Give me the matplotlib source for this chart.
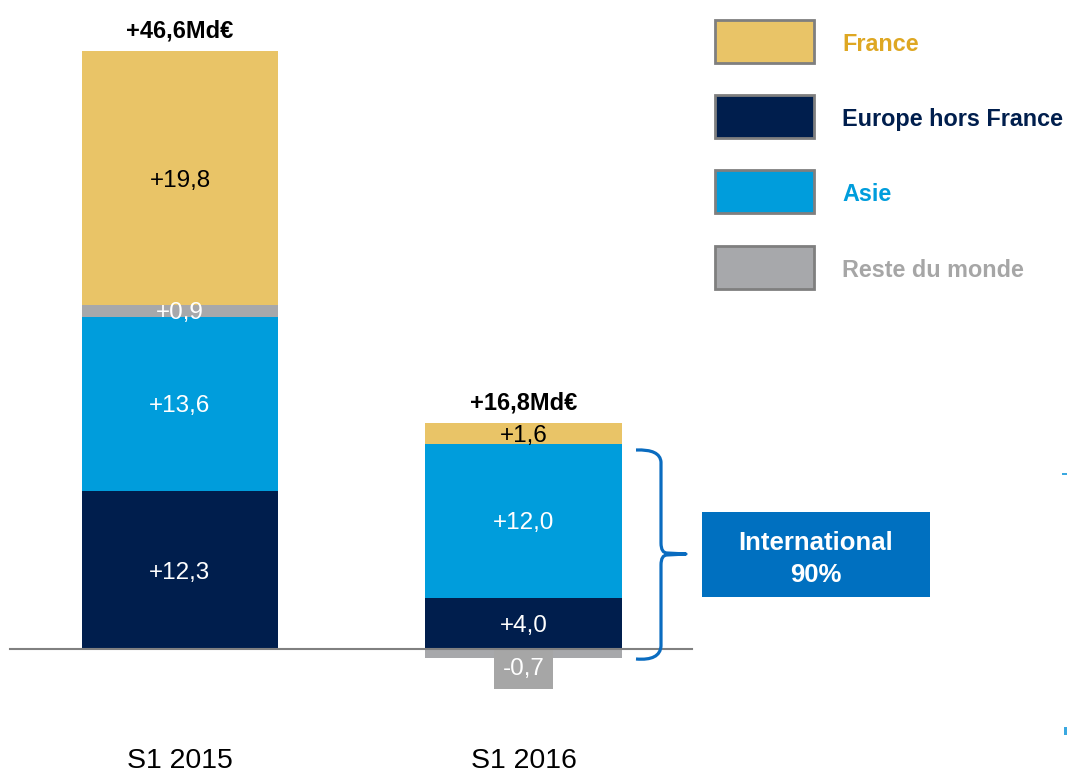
import matplotlib
matplotlib.use("Agg")
import matplotlib.pyplot as plt
from matplotlib.patches import Rectangle, PathPatch
from matplotlib.path import Path

plt.rcParams['font.family'] = ['Liberation Sans', 'DejaVu Sans']

periods = ["S1 2015", "S1 2016"]
segments = ["Europe hors France", "Asie", "Reste du monde", "France"]
values = {
    "Europe hors France": [12.3, 4.0],
    "Asie": [13.6, 12.0],
    "Reste du monde": [0.9, -0.7],
    "France": [19.8, 1.6],
}
labels = {
    "Europe hors France": ["+12,3", "+4,0"],
    "Asie": ["+13,6", "+12,0"],
    "Reste du monde": ["+0,9", "-0,7"],
    "France": ["+19,8", "+1,6"],
}
totals = ["+46,6Md€", "+16,8Md€"]
legend_order = ["France", "Europe hors France", "Asie", "Reste du monde"]
intl_lines = ["International", "90%"]

colors = {
    "France": "#E9C467",
    "Europe hors France": "#001E4D",
    "Asie": "#009DDC",
    "Reste du monde": "#A7A8AB",
}
text_colors = {
    "France": "#DEA722",
    "Europe hors France": "#001E4D",
    "Asie": "#009DDC",
    "Reste du monde": "#A6A6A6",
}
inner_colors = {
    "France": "black",
    "Europe hors France": "white",
    "Asie": "white",
    "Reste du monde": "white",
}

W, H = 1067, 772
fig = plt.figure(figsize=(W / 100, H / 100), dpi=100)
ax = fig.add_axes([0, 0, 1, 1])
ax.set_facecolor("white")

# pixel mapping
x0px, dxpx = 180.0, 343.5
base_px, ppu = 649.0, 12.83
ax.set_xlim(-x0px / dxpx, (W - x0px) / dxpx)
ax.set_ylim(-(H - base_px) / ppu, base_px / ppu)
bw = 196.5 / dxpx

xs = list(range(len(periods)))
pos_bottom = [0.0] * len(periods)
neg_bottom = [0.0] * len(periods)
for seg in segments:
    for i, v in enumerate(values[seg]):
        if v >= 0:
            b = pos_bottom[i]
            pos_bottom[i] += v
        else:
            b = neg_bottom[i]
            neg_bottom[i] += v
        ax.bar(xs[i], v, bottom=b, width=bw, color=colors[seg], linewidth=0, zorder=2)
        if v >= 0:
            ax.text(xs[i], b + v / 2, labels[seg][i], ha="center", va="center_baseline",
                    fontsize=17.5, color=inner_colors[seg], zorder=4)
        else:
            ax.text(xs[i], b + v - 0.68, labels[seg][i], ha="center", va="center_baseline",
                    fontsize=17.5, color="white", zorder=4,
                    bbox=dict(boxstyle="square,pad=0.36", fc="#A6A6A6", ec="none"))

for i, t in enumerate(totals):
    ax.text(xs[i], pos_bottom[i] + 1.8, t, ha="center", va="center_baseline",
            fontsize=17, fontweight="bold", color="black")

# baseline
ax.plot([(10 - x0px) / dxpx, (692 - x0px) / dxpx], [0, 0],
        color="#808080", lw=1.5, zorder=5)

ax.set_xticks([])
ax.set_yticks([])
for s in ax.spines.values():
    s.set_visible(False)
for i, p in enumerate(periods):
    ax.text(xs[i], (base_px - 758) / ppu, p, ha="center", va="center_baseline",
            fontsize=20.5, color="black")

# legend (figure pixel coords)
def fy(py):
    return 1 - py / H

box_tops = [20, 95, 170, 246]
for k, seg in enumerate(legend_order):
    top = box_tops[k]
    fig.patches.append(Rectangle((715 / W, fy(top + 43)), 99 / W, 43 / H,
                                 transform=fig.transFigure, fc=colors[seg],
                                 ec="#7F7F7F", lw=2))
    fig.text(842 / W, fy(top + 22), seg, ha="left", va="center_baseline", fontsize=16.8,
             fontweight="bold", color=text_colors[seg])

# International box
fig.patches.append(Rectangle((702 / W, fy(597)), 228 / W, 85 / H,
                             transform=fig.transFigure, fc="#0070C0", ec="none"))
for line, py in zip(intl_lines, [540, 572]):
    fig.text(816 / W, fy(py), line, ha="center", va="center_baseline", fontsize=18.5,
             fontweight="bold", color="white")

# brace
pts = [(636, 450), (660, 449), (661, 462), (661, 543), (661, 553), (667, 553),
       (686, 554), (667, 555), (661, 555), (661, 565), (661, 646), (660, 661), (636, 659)]
verts = [(x / W, fy(y)) for x, y in pts]
codes = [Path.MOVETO, Path.CURVE3, Path.CURVE3, Path.LINETO, Path.CURVE3, Path.CURVE3,
         Path.LINETO, Path.LINETO, Path.CURVE3, Path.CURVE3, Path.LINETO, Path.CURVE3, Path.CURVE3]
fig.patches.append(PathPatch(Path(verts, codes), transform=fig.transFigure,
                             fc="none", ec="#0A6CC0", lw=2.3, joinstyle="round"))

# tiny edge marks
fig.patches.append(Rectangle((1062 / W, fy(475)), 5 / W, 2 / H,
                             transform=fig.transFigure, fc="#3AA8E0", ec="none"))
fig.patches.append(Rectangle((1064 / W, fy(735)), 3 / W, 8 / H,
                             transform=fig.transFigure, fc="#3AA8E0", ec="none"))

fig.savefig("out.png", dpi=100, facecolor="white")
